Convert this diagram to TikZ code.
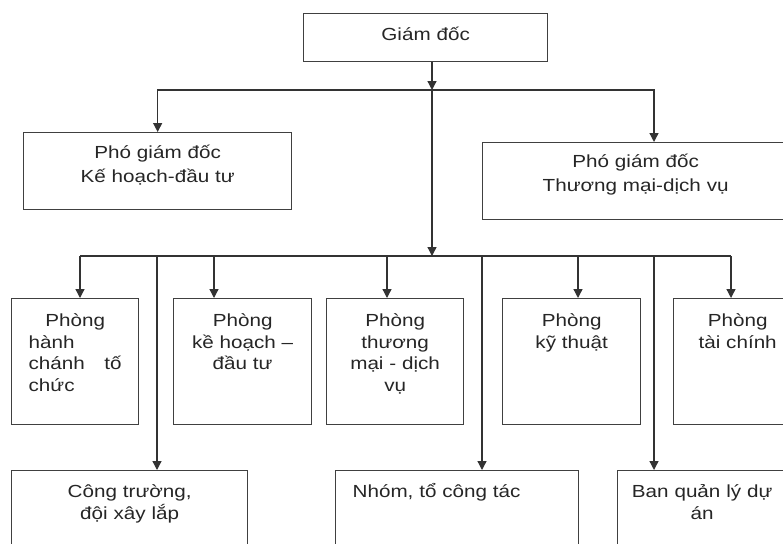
\documentclass[tikz,border=0pt]{standalone}
\usepackage{fontspec}
\newfontfamily\boxfont[FakeStretch=1.18]{Liberation Sans}
\usetikzlibrary{arrows.meta}

\tikzset{
  box/.style={draw=black!75, line width=1.3pt, anchor=north west, inner sep=0pt,
    align=center, text=black!85, text height=27pt,
    font=\boxfont\fontsize{17.5pt}{21.5pt}\selectfont},
  wide/.style={font=\boxfont\fontsize{17.5pt}{24pt}\selectfont},
  link/.style={draw=black!80, line width=1.3pt},
  arr/.style={link, -{Triangle[length=9pt,width=9pt]}},
}

\begin{document}
\begin{tikzpicture}[x=1pt, y=-1pt]
  \useasboundingbox (0,0) rectangle (783,543);
  \clip (0,0) rectangle (783,543);
  \fill[white] (0,0) rectangle (783,543);

  % director and deputies
  \node[box, text width=244pt, text depth=21pt] (gd) at (303,13) {Giám đốc};
  \node[box, wide, text width=268pt, text height=26pt, text depth=51pt] (pgdkh) at (23,132)
    {Phó giám đốc\\Kế hoạch-đầu tư};
  \node[box, wide, text width=306pt, text height=25pt, text depth=52pt] (pgdtm) at (482,142)
    {Phó giám đốc\\Thương mại-dịch vụ};

  % departments
  \node[box, align=left, inner xsep=17pt, text width=93pt, text height=28pt, text depth=98pt] (phc) at (11,298)
    {\hfill Phòng\hfill\null\\hành\\chánh\hfill tố\\chức};
  \node[box, text width=138pt, text height=28pt, text depth=98pt] (pkh) at (173,298)
    {Phòng\\kề hoạch –\\đầu tư};
  \node[box, text width=137pt, text height=28pt, text depth=98pt] (ptm) at (326,298)
    {Phòng\\thương\\mại - dịch\\vụ};
  \node[box, text width=138pt, text height=28pt, text depth=98pt] (pkt) at (502,298)
    {Phòng\\kỹ thuật};
  \node[box, text width=128pt, text height=28pt, text depth=98pt] (ptc) at (673,298)
    {Phòng\\tài chính};

  % lower units
  \node[box, text width=236pt, text depth=73pt] (ctr) at (11,470)
    {Công trường,\\đội xây lắp};
  \node[box, align=left, inner xsep=17pt, text width=209pt, text depth=73pt] (nhom) at (335,470)
    {Nhóm, tổ công tác};
  \node[box, text width=169pt, text depth=73pt] (bql) at (617,470)
    {Ban quản lý dự\\án};

  % upper branch
  \coordinate (h1) at (432,90);
  \coordinate (h2) at (432,256);
  \coordinate (k2) at (654,90);
  \draw[arr] (h1 |- gd.south) -- (h1);
  \draw[arr] (h1) -- (h2);
  \draw[arr] (h1) -| (pgdkh.north);
  \draw[arr] (h1) -- (k2) -- (k2 |- pgdtm.north);

  % lower branch
  \coordinate (d1) at (80,256);
  \coordinate (d5) at (731,256);
  \draw[link] (d1) -- (d5);
  \foreach \x/\n in {80/phc, 214/pkh, 387/ptm, 578/pkt, 731/ptc, 157/ctr, 482/nhom, 654/bql} {
    \coordinate (top-\n) at (\x,256);
    \draw[arr] (top-\n) -- (top-\n |- \n.north);
  }
\end{tikzpicture}
\end{document}
